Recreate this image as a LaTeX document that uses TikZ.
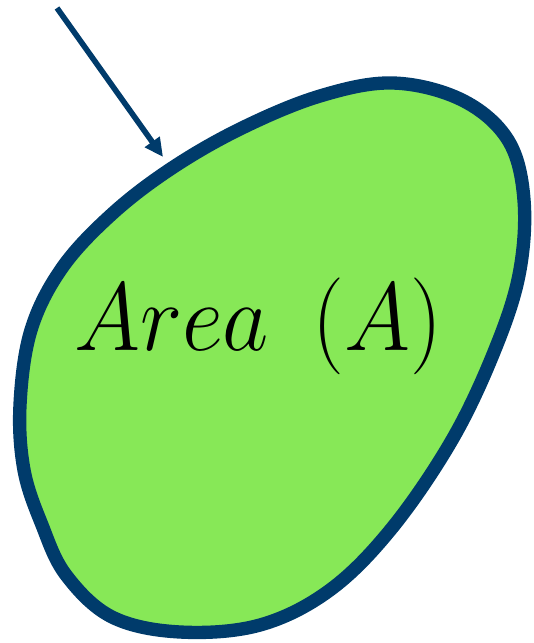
\documentclass[tikz,border=0pt]{standalone}
\usetikzlibrary{arrows.meta}
\definecolor{blobfill}{RGB}{135,232,87}
\definecolor{blobbdr}{RGB}{0,59,107}
\tikzset{
  %% the closed region
  blob/.style={draw=blobbdr,fill=blobfill,line width=10pt,line join=round},
  %% pointer arrow
  arr/.style={-{Triangle[length=14pt,width=13pt]},line width=4.2pt,color=blobbdr},
  lbl/.style={font=\Huge,xscale=2.71,yscale=2.92,text=black},
}
\begin{document}
\begin{tikzpicture}[x=0.75pt,y=-0.75pt]
  \useasboundingbox (0,0) rectangle (533,643);
  %% region outline
  \draw[blob] plot[smooth cycle,tension=0.6] coordinates {
    (393,83) (462,100) (508,140) (524,200) (519,275) (494,352)
    (452,440) (392,528) (330,590) (260,625) (180,632) (112,617)
    (66,575) (42,525) (24,470) (20,405) (31,330) (62,268)
    (112,214) (172,168) (242,128) (320,96)};
  \node[lbl] (area) at (258,326) {$Area\hspace{0.48em}(A)$};
  %% arrow
  \coordinate (tail) at (57,8);
  \coordinate (tip) at (163,157);
  \draw[arr] (tail) -- (tip);
\end{tikzpicture}
\end{document}
